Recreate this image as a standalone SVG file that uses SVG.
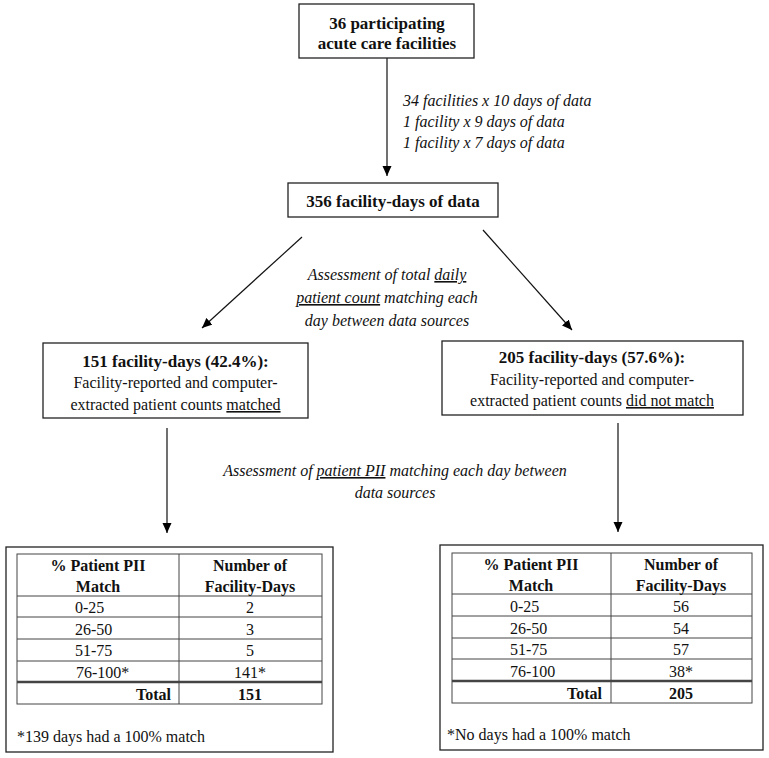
<svg xmlns="http://www.w3.org/2000/svg" width="769" height="758" viewBox="0 0 769 758" font-family="Liberation Serif">
<defs>
<marker id="ah" markerWidth="10" markerHeight="10" refX="10" refY="5" orient="auto" markerUnits="userSpaceOnUse">
<path d="M0,0.5 L10,5 L0,9.5 Z" fill="#000"/>
</marker>
<style>
svg g text, svg g text tspan, #n-facilities text, #n-days text, #n-matched text, #n-notmatched text, #n-table-left text, #n-table-right text, #label-days text, #label-count text, #label-pii text { font-family: 'Liberation Serif', serif !important; }
</style>
</defs>
<rect width="769" height="758" fill="#fff"/>
<g id="connectors" stroke="#111" stroke-width="1.2" fill="none" marker-end="url(#ah)">
<line x1="387" y1="58" x2="387" y2="176"/>
<line x1="302" y1="237" x2="202" y2="328"/>
<line x1="483" y1="230" x2="572" y2="330"/>
<line x1="167" y1="428" x2="167" y2="533"/>
<line x1="618" y1="423" x2="618" y2="532"/>
</g>
<g id="label-days">
<text style="font-family:'Liberation Serif',serif;font-size:16px;font-style:italic" fill="#111" x="403" y="106">34 facilities x 10 days of data</text>
<text style="font-family:'Liberation Serif',serif;font-size:16px;font-style:italic" fill="#111" x="403" y="127">1 facility x 9 days of data</text>
<text style="font-family:'Liberation Serif',serif;font-size:16px;font-style:italic" fill="#111" x="403" y="148">1 facility x 7 days of data</text>
</g>
<g id="label-count">
<text style="font-family:'Liberation Serif',serif;font-size:16px;font-style:italic" fill="#111" text-anchor="middle" x="387" y="280">Assessment of total <tspan text-decoration="underline">daily</tspan></text>
<text style="font-family:'Liberation Serif',serif;font-size:16px;font-style:italic" fill="#111" text-anchor="middle" x="387" y="303"><tspan text-decoration="underline">patient count</tspan> matching each</text>
<text style="font-family:'Liberation Serif',serif;font-size:16px;font-style:italic" fill="#111" text-anchor="middle" x="387" y="326">day between data sources</text>
</g>
<g id="label-pii">
<text style="font-family:'Liberation Serif',serif;font-size:16px;font-style:italic" fill="#111" text-anchor="middle" x="395" y="476">Assessment of <tspan text-decoration="underline">patient PII</tspan> matching each day between</text>
<text style="font-family:'Liberation Serif',serif;font-size:16px;font-style:italic" fill="#111" text-anchor="middle" x="395" y="498">data sources</text>
</g>
<g id="n-facilities">
<rect x="299" y="4" width="175" height="54" fill="#fff" stroke="#222" stroke-width="1.3"/>
<text style="font-family:'Liberation Serif',serif;font-size:17px;font-weight:bold" fill="#111" text-anchor="middle" x="387" y="29">36 participating</text>
<text style="font-family:'Liberation Serif',serif;font-size:17px;font-weight:bold" fill="#111" text-anchor="middle" x="387" y="49">acute care facilities</text>
</g>
<g id="n-days">
<rect x="288" y="183" width="210" height="34" fill="#fff" stroke="#222" stroke-width="1.3"/>
<text style="font-family:'Liberation Serif',serif;font-size:17px;font-weight:bold" fill="#111" text-anchor="middle" x="393" y="207">356 facility-days of data</text>
</g>
<g id="n-matched">
<rect x="43" y="343" width="265" height="75" fill="#fff" stroke="#222" stroke-width="1.3"/>
<text style="font-family:'Liberation Serif',serif;font-size:17px;font-weight:bold" fill="#111" text-anchor="middle" x="175.5" y="367">151 facility-days (42.4%):</text>
<text style="font-family:'Liberation Serif',serif;font-size:16px" fill="#111" text-anchor="middle" x="175.5" y="388">Facility-reported and computer-</text>
<text style="font-family:'Liberation Serif',serif;font-size:16px" fill="#111" text-anchor="middle" x="175.5" y="410">extracted patient counts <tspan text-decoration="underline">matched</tspan></text>
</g>
<g id="n-notmatched">
<rect x="442" y="341" width="301" height="74" fill="#fff" stroke="#222" stroke-width="1.3"/>
<text style="font-family:'Liberation Serif',serif;font-size:17px;font-weight:bold" fill="#111" text-anchor="middle" x="592" y="363">205 facility-days (57.6%):</text>
<text style="font-family:'Liberation Serif',serif;font-size:16px" fill="#111" text-anchor="middle" x="592" y="385">Facility-reported and computer-</text>
<text style="font-family:'Liberation Serif',serif;font-size:16px" fill="#111" text-anchor="middle" x="592" y="406">extracted patient counts <tspan text-decoration="underline">did not match</tspan></text>
</g>
<g id="n-table-left">
<rect x="6" y="547" width="327" height="205" fill="#fff" stroke="#222" stroke-width="1.3"/>
<g stroke="#444" stroke-width="1" fill="none">
<rect x="17" y="554" width="305" height="150"/>
<line x1="179" y1="554" x2="179" y2="704"/>
<line x1="17" y1="596" x2="322" y2="596"/>
<line x1="17" y1="617" x2="322" y2="617"/>
<line x1="17" y1="639" x2="322" y2="639"/>
<line x1="17" y1="661" x2="322" y2="661"/>
<line x1="17" y1="682" x2="322" y2="682" stroke-width="2.5"/>
</g>
<text style="font-family:'Liberation Serif',serif;font-size:16px;font-weight:bold" fill="#111" text-anchor="middle" x="98" y="571">% Patient PII</text>
<text style="font-family:'Liberation Serif',serif;font-size:16px;font-weight:bold" fill="#111" text-anchor="middle" x="98" y="592">Match</text>
<text style="font-family:'Liberation Serif',serif;font-size:16px;font-weight:bold" fill="#111" text-anchor="middle" x="250" y="571">Number of</text>
<text style="font-family:'Liberation Serif',serif;font-size:16px;font-weight:bold" fill="#111" text-anchor="middle" x="250" y="592">Facility-Days</text>
<text style="font-family:'Liberation Serif',serif;font-size:16px" fill="#111" x="75" y="613">0-25</text>
<text style="font-family:'Liberation Serif',serif;font-size:16px" fill="#111" x="75" y="635">26-50</text>
<text style="font-family:'Liberation Serif',serif;font-size:16px" fill="#111" x="75" y="656">51-75</text>
<text style="font-family:'Liberation Serif',serif;font-size:16px" fill="#111" x="76" y="678">76-100*</text>
<text style="font-family:'Liberation Serif',serif;font-size:16px" fill="#111" text-anchor="middle" x="250" y="613">2</text>
<text style="font-family:'Liberation Serif',serif;font-size:16px" fill="#111" text-anchor="middle" x="250" y="635">3</text>
<text style="font-family:'Liberation Serif',serif;font-size:16px" fill="#111" text-anchor="middle" x="250" y="656">5</text>
<text style="font-family:'Liberation Serif',serif;font-size:16px" fill="#111" text-anchor="middle" x="250" y="678">141*</text>
<text style="font-family:'Liberation Serif',serif;font-size:16px;font-weight:bold" fill="#111" text-anchor="end" x="171" y="700">Total</text>
<text style="font-family:'Liberation Serif',serif;font-size:16px;font-weight:bold" fill="#111" text-anchor="middle" x="250" y="700">151</text>
<text style="font-family:'Liberation Serif',serif;font-size:16px" fill="#111" x="17" y="742">*139 days had a 100% match</text>
</g>
<g id="n-table-right">
<rect x="440" y="545" width="323" height="205" fill="#fff" stroke="#222" stroke-width="1.3"/>
<g stroke="#444" stroke-width="1" fill="none">
<rect x="452" y="553" width="300" height="150"/>
<line x1="611" y1="553" x2="611" y2="703"/>
<line x1="452" y1="594" x2="752" y2="594"/>
<line x1="452" y1="616" x2="752" y2="616"/>
<line x1="452" y1="638" x2="752" y2="638"/>
<line x1="452" y1="659" x2="752" y2="659"/>
<line x1="452" y1="681" x2="752" y2="681" stroke-width="2.5"/>
</g>
<text style="font-family:'Liberation Serif',serif;font-size:16px;font-weight:bold" fill="#111" text-anchor="middle" x="531" y="570">% Patient PII</text>
<text style="font-family:'Liberation Serif',serif;font-size:16px;font-weight:bold" fill="#111" text-anchor="middle" x="531" y="591">Match</text>
<text style="font-family:'Liberation Serif',serif;font-size:16px;font-weight:bold" fill="#111" text-anchor="middle" x="681" y="570">Number of</text>
<text style="font-family:'Liberation Serif',serif;font-size:16px;font-weight:bold" fill="#111" text-anchor="middle" x="681" y="591">Facility-Days</text>
<text style="font-family:'Liberation Serif',serif;font-size:16px" fill="#111" x="510" y="612">0-25</text>
<text style="font-family:'Liberation Serif',serif;font-size:16px" fill="#111" x="510" y="634">26-50</text>
<text style="font-family:'Liberation Serif',serif;font-size:16px" fill="#111" x="510" y="655">51-75</text>
<text style="font-family:'Liberation Serif',serif;font-size:16px" fill="#111" x="510" y="677">76-100</text>
<text style="font-family:'Liberation Serif',serif;font-size:16px" fill="#111" text-anchor="middle" x="681" y="612">56</text>
<text style="font-family:'Liberation Serif',serif;font-size:16px" fill="#111" text-anchor="middle" x="681" y="634">54</text>
<text style="font-family:'Liberation Serif',serif;font-size:16px" fill="#111" text-anchor="middle" x="681" y="655">57</text>
<text style="font-family:'Liberation Serif',serif;font-size:16px" fill="#111" text-anchor="middle" x="681" y="677">38*</text>
<text style="font-family:'Liberation Serif',serif;font-size:16px;font-weight:bold" fill="#111" text-anchor="end" x="602" y="699">Total</text>
<text style="font-family:'Liberation Serif',serif;font-size:16px;font-weight:bold" fill="#111" text-anchor="middle" x="681" y="699">205</text>
<text style="font-family:'Liberation Serif',serif;font-size:16px" fill="#111" x="447" y="740">*No days had a 100% match</text>
</g>
</svg>
